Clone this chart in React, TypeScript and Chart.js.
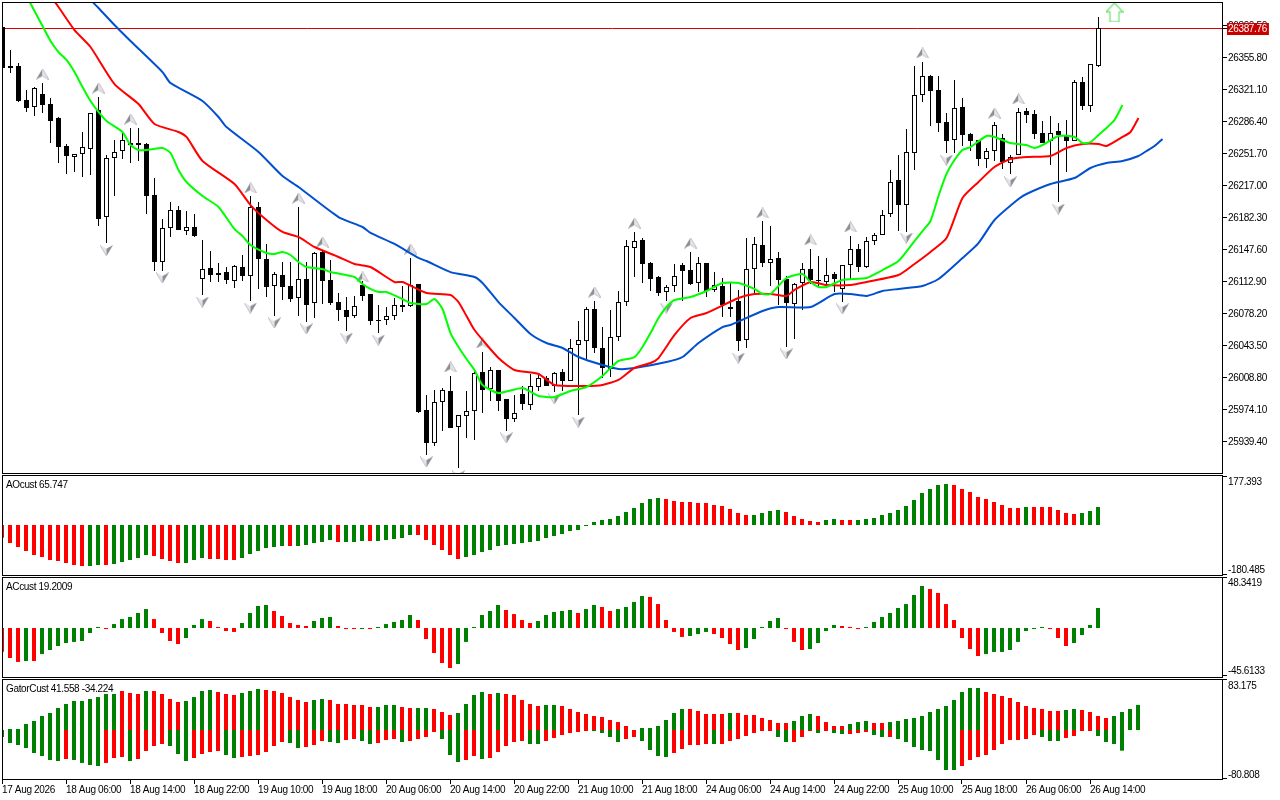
import React, { useEffect, useRef } from "react";
import { Chart, registerables } from "chart.js";

Chart.register(...registerables);

const FONT = "'Liberation Sans', Arial, sans-serif";
const bidPrice = 26387.76;

const opens = [
  26388.9,26346.6,26346.6,26309.7,26302.1,26316.3,26305.4,26290.2,26259.8,26247.9,
  26251.2,26256.6,26298.9,26182.8,26246.8,26254.4,26263.0,26263.0,26262.0,26206.7,
  26134.0,26170.9,26190.4,26167.6,26172.0,26115.6,26127.5,26122.0,26123.1,26113.4,
  26128.6,26118.8,26193.7,26137.3,26108.0,26119.9,26108.0,26095.0,26115.6,26089.6,
  26144.9,26114.5,26090.6,26082.0,26075.5,26109.1,26099.3,26071.1,26071.1,26075.5,
  26087.4,26086.3,26110.2,25973.5,25937.7,25982.2,25994.2,25955.1,25967.0,25972.4,
  26014.7,25996.3,26016.9,25985.5,25963.8,25990.9,25979.0,25998.5,26008.3,25999.6,
  26014.7,26005.0,26044.0,26048.3,26083.1,26040.8,26018.0,26052.7,26090.6,26149.2,
  26157.9,26132.9,26117.8,26101.5,26108.0,26130.8,26125.3,26111.3,26132.9,26103.7,
  26108.0,26085.2,26091.7,26049.4,26126.4,26152.5,26132.9,26138.4,26115.6,26088.5,
  26111.3,26126.4,26114.5,26112.3,26121.0,26104.8,26130.8,26148.1,26128.6,26156.8,
  26163.3,26186.1,26222.9,26195.8,26252.2,26315.1,26335.7,26320.6,26285.8,26266.3,
  26302.1,26272.8,26266.3,26245.7,26254.4,26268.5,26241.3,26250.1,26297.8,26294.5,
  26273.9,26265.2,26276.1,26271.8,26265.2,26329.2,26303.2,26346.6,
];
const closes = [
  26344.4,26344.4,26308.6,26301.0,26322.7,26304.3,26286.9,26258.7,26249.0,26251.2,
  26258.7,26295.6,26180.6,26246.8,26253.3,26266.3,26260.9,26260.9,26205.6,26134.0,
  26170.9,26190.4,26168.7,26172.0,26162.2,26126.4,26119.9,26119.9,26114.5,26129.7,
  26118.8,26193.7,26137.3,26107.0,26121.0,26107.0,26093.9,26115.6,26087.4,26143.8,
  26113.4,26089.6,26082.0,26074.4,26086.3,26097.2,26070.0,26070.0,26075.5,26087.4,
  26085.2,26109.1,25971.4,25937.7,25982.2,25995.2,25954.0,25968.1,25972.4,26013.6,
  25995.2,26016.9,25983.3,25963.8,25970.3,25980.1,25999.6,26008.3,25999.6,26013.6,
  26005.0,26040.8,26049.4,26083.1,26040.8,26019.1,26052.7,26090.6,26151.4,26156.8,
  26131.9,26115.6,26100.4,26107.0,26118.8,26124.2,26110.2,26132.9,26102.6,26109.1,
  26087.4,26083.1,26048.3,26126.4,26153.6,26132.9,26137.3,26114.5,26089.6,26110.2,
  26126.4,26114.5,26113.4,26119.9,26115.6,26130.8,26148.1,26128.6,26156.8,26163.3,
  26185.0,26220.8,26195.8,26253.3,26315.1,26335.7,26319.5,26284.8,26265.2,26301.0,
  26271.8,26265.2,26245.7,26254.4,26282.6,26242.5,26247.9,26296.7,26293.5,26272.8,
  26263.0,26273.9,26271.8,26265.2,26329.2,26303.2,26348.8,26387.76,
];
const highs = [
  26388.9,26363.9,26349.8,26320.6,26323.8,26328.1,26311.9,26291.3,26262.0,26251.2,
  26275.0,26295.6,26313.0,26250.1,26266.3,26276.1,26279.3,26279.3,26263.0,26225.1,
  26180.6,26199.1,26194.7,26189.3,26186.1,26157.9,26145.9,26132.9,26128.6,26130.8,
  26141.6,26205.6,26199.1,26153.6,26123.1,26134.0,26134.0,26193.7,26134.0,26144.9,
  26147.0,26136.2,26100.4,26096.1,26097.2,26113.4,26099.3,26087.4,26085.2,26095.0,
  26108.0,26138.4,26110.2,25989.8,25995.2,25997.4,26010.4,25968.1,25994.2,26018.0,
  26036.4,26020.2,26016.9,25985.5,25989.8,25999.6,26012.6,26012.6,26010.4,26014.7,
  26018.0,26050.5,26070.0,26085.2,26091.7,26063.5,26082.0,26102.6,26157.9,26166.6,
  26160.0,26134.0,26118.8,26109.1,26131.9,26132.9,26144.9,26139.5,26132.9,26123.1,
  26116.7,26111.3,26103.7,26160.0,26161.2,26178.5,26173.1,26144.9,26118.8,26111.3,
  26132.9,26148.1,26140.5,26138.4,26123.1,26130.8,26162.2,26153.6,26161.2,26165.5,
  26190.4,26233.8,26250.1,26278.3,26346.6,26351.0,26336.8,26335.7,26295.6,26331.4,
  26311.9,26273.9,26266.3,26257.7,26285.8,26272.8,26250.1,26301.0,26301.0,26298.9,
  26286.9,26292.4,26284.8,26288.0,26331.4,26334.7,26348.8,26399.7,
];
const lows = [
  26344.4,26338.9,26307.5,26296.7,26292.4,26295.6,26263.0,26241.3,26229.5,26231.6,
  26226.2,26228.4,26173.1,26154.6,26205.6,26245.7,26241.3,26243.6,26186.1,26124.2,
  26124.2,26161.2,26168.7,26163.3,26161.2,26098.2,26112.3,26112.3,26110.2,26105.9,
  26113.4,26091.7,26104.8,26096.1,26075.5,26092.8,26090.6,26075.5,26069.0,26073.3,
  26088.5,26087.4,26070.0,26059.2,26073.3,26091.7,26065.7,26057.0,26065.7,26071.1,
  26079.8,26085.2,25970.3,25924.7,25934.5,25950.8,25954.0,25910.7,25943.2,25941.0,
  25970.3,25983.3,25972.4,25950.8,25960.5,25973.5,25973.5,25994.2,25999.6,25993.1,
  25994.2,26005.0,25968.1,26027.8,26035.4,26008.3,26009.3,26048.3,26086.3,26117.8,
  26111.3,26102.6,26097.2,26091.7,26101.5,26091.7,26109.1,26101.5,26096.1,26101.5,
  26074.4,26074.4,26037.5,26040.8,26099.3,26128.6,26108.0,26087.4,26041.9,26050.5,
  26082.0,26110.2,26107.0,26107.0,26101.5,26090.6,26114.5,26123.1,26127.5,26152.5,
  26163.3,26182.8,26167.6,26166.6,26233.8,26307.5,26281.5,26275.0,26252.2,26252.2,
  26259.8,26254.4,26238.1,26236.0,26243.6,26234.9,26229.5,26250.1,26284.8,26267.4,
  26263.0,26239.2,26199.1,26231.6,26265.2,26298.9,26296.7,26345.5,
];

const lipsBars = [3,5,6,7,8,9,10,11,12,13,15,16,17,18,20,21,22,23,25,27,29,30,31,33,34,35,36,37,38,40,41,44,45,46,47,48,50,51,53,54,55,56,57,58,59,60,62,65,67,69,71,73,75,76,77,79,80,81,82,83,84,86,88,90,92,94,95,96,98,100,101,102,103,105,108,110,112,114,115,116,117,118,119,120,121,123,124,126,128,129,130,132,134,135,136,137,138,139,140];
const lipsPrices = [26422.5,26390.0,26373.7,26361.7,26353.1,26340.0,26323.8,26308.6,26296.7,26286.9,26275.0,26260.9,26255.5,26255.5,26257.7,26252.2,26233.8,26220.8,26205.6,26193.7,26169.8,26162.2,26152.5,26143.8,26142.7,26144.9,26141.6,26134.0,26128.6,26126.4,26123.1,26117.8,26110.2,26104.8,26101.5,26101.5,26093.9,26089.6,26088.5,26093.9,26083.1,26057.0,26041.9,26028.9,26016.9,26000.7,25992.0,25997.4,25988.7,25987.6,25994.2,25998.5,26010.4,26019.1,26026.7,26031.0,26041.9,26057.0,26073.3,26085.2,26092.8,26096.1,26102.6,26111.3,26111.3,26104.8,26099.3,26099.3,26116.7,26121.0,26112.3,26107.0,26107.0,26114.5,26116.7,26125.3,26135.1,26156.8,26167.6,26178.5,26205.6,26229.5,26244.6,26255.5,26258.7,26270.7,26269.6,26263.0,26260.9,26257.7,26260.9,26270.7,26269.6,26263.0,26264.1,26271.8,26279.3,26288.0,26304.3];

const teethBars = [6,7,9,11,14,17,19,22,23,25,29,31,33,35,37,39,42,44,46,49,50,53,56,57,58,59,62,64,67,69,73,75,77,79,81,82,84,86,88,92,94,96,98,99,101,103,106,108,112,114,116,118,120,122,124,126,128,131,133,135,137,138,140,141,142];
const teethPrices = [26422.5,26410.6,26385.6,26367.2,26327.0,26305.4,26283.7,26275.0,26269.6,26243.6,26218.6,26195.8,26179.6,26166.6,26161.2,26150.3,26139.5,26131.9,26128.6,26112.3,26112.3,26100.4,26098.2,26090.6,26075.5,26060.3,26029.9,26016.9,26012.6,26000.7,25999.6,26000.7,26006.1,26019.1,26024.5,26029.9,26054.9,26073.3,26078.7,26095.0,26099.3,26099.3,26097.2,26103.7,26112.3,26109.1,26109.1,26112.3,26119.9,26131.9,26144.9,26160.0,26203.4,26220.8,26237.0,26245.7,26247.9,26249.0,26257.7,26262.0,26262.0,26259.8,26269.6,26275.0,26290.2];

const jawBars = [11,12,14,16,20,21,25,27,28,32,35,37,42,45,46,49,52,53,56,59,60,62,64,66,68,70,72,75,77,79,83,85,87,90,91,95,97,101,104,106,108,110,112,115,117,120,122,124,127,128,131,134,136,138,140,142,143,144,145];
const jawPrices = [26418.2,26409.5,26391.0,26373.7,26340.0,26328.1,26308.6,26291.3,26280.4,26253.3,26227.3,26215.4,26182.8,26172.0,26165.5,26153.6,26138.4,26135.1,26123.1,26117.8,26111.3,26090.6,26073.3,26056.0,26046.2,26040.8,26031.0,26022.3,26018.0,26019.1,26025.6,26031.0,26046.2,26063.5,26065.7,26080.9,26085.2,26085.2,26099.3,26099.3,26097.2,26102.6,26104.8,26108.0,26115.6,26138.4,26154.6,26179.6,26202.4,26207.8,26218.6,26225.1,26236.0,26241.3,26243.6,26249.0,26254.4,26259.8,26267.4];

const fractalUpBars = [5,12,16,31,37,40,45,51,56,60,74,79,86,95,101,106,115,124,127];
const fractalUpPrices = [26337.9,26322.7,26289.1,26214.3,26203.4,26155.7,26117.8,26148.1,26020.2,26046.2,26101.5,26176.3,26154.6,26187.2,26157.9,26172.0,26360.7,26295.6,26310.8];
const fractalDownBars = [13,20,25,31,34,38,43,47,53,57,63,69,72,83,92,98,105,113,118,126,132];
const fractalDownPrices = [26146.4,26116.7,26090.6,26084.1,26067.9,26061.4,26051.6,26049.4,25917.2,25902.0,25943.2,25985.5,25960.5,26084.1,26029.9,26034.3,26083.1,26160.0,26244.6,26220.8,26191.5];
const signalBar = 139;
const signalPrice = 26404.6;

const priceTicks = [26390.5,26355.8,26321.1,26286.4,26251.7,26217.0,26182.3,26147.6,26112.9,26078.2,26043.5,26008.8,25974.1,25939.4];

const aoValues = [
  -46.5,-65.8,-80.5,-95.1,-109.7,-117.1,-128,-131.7,-139,-146.3,
  -150,-150,-146.3,-146.3,-142.7,-135.3,-128,-120.7,-109.7,-113.4,
  -124.4,-131.7,-139,-139,-128,-120.7,-124.4,-124.4,-128,-128,
  -120.7,-106.1,-95.1,-84.1,-80.5,-76.8,-76.8,-76.8,-73.2,-65.8,
  -62.2,-54.9,-62.2,-62.2,-62.2,-58.5,-58.5,-58.5,-54.9,-51.2,
  -47.6,-36.6,-36.6,-54.9,-73.2,-91.4,-109.7,-124.4,-117.1,-109.7,
  -98.8,-91.4,-76.8,-73.2,-69.5,-65.8,-62.2,-58.5,-47.6,-40.2,
  -32.9,-21.9,-18.3,-3.7,11,18.3,21.9,32.9,47.6,62.2,
  80.5,95.1,98.8,95.1,87.8,84.1,84.1,80.5,80.5,73.2,
  69.5,58.5,43.9,36.6,36.6,43.9,51.2,54.9,47.6,32.9,
  21.9,14.6,11,18.3,21.9,18.3,18.3,18.3,21.9,25.6,
  36.6,43.9,54.9,69.5,91.4,117.1,131.7,146.3,150,146.3,
  131.7,120.7,102.4,95.1,84.1,73.2,62.2,62.2,65.8,65.8,
  65.8,65.8,54.9,43.9,40.2,43.9,51.2,65.747,
];
const aoColors = ("rrrrrrrrrr"+"rggrgggggr"+"rrrgggrrrr"+"ggggggrggg"+"ggrgggrggg"+"ggrrrrrrgg"+"gggggggggg"+"gggggggggg"+"gggrrrrrrr"+"rrrrggggrr"+"rrrggrrggg"+"gggggggggr"+"rrrrrrrrgr"+"rrrrrggg").split("");

const acValues = [
  -22.8,-28.8,-32.6,-31.7,-31.7,-25,-21.1,-17.3,-14.4,-13.4,
  -12.5,-4.8,1,-1,3.8,8.6,10.6,14.4,18.2,8.6,
  -4.8,-12.5,-15.4,-9.6,2.9,8.6,6.7,1,-2.9,-3.8,
  4.8,14.4,21.1,22.1,16.3,11.5,4.8,2.9,1.9,6.7,
  9.6,10.6,1.9,-1,-1,-1,-1,1,3.8,5.8,
  7.7,12.5,7.7,-10.6,-24,-33.6,-38.4,-34.6,-13.4,1,
  12.5,16.3,22.1,17.3,13.4,7.7,4.8,6.7,12.5,15.4,
  16.3,17.3,14.4,18.2,22.1,20.2,16.3,18.2,20.2,25,
  30.7,29.8,23,7.7,-3.8,-8.6,-7.7,-5.8,-3.8,-5.8,
  -9.6,-15.4,-21.1,-19.2,-10.6,1,6.7,9.6,-1,-13.4,
  -21.1,-20.2,-14.4,-2.9,2.9,1.9,1,-1,1,5.8,
  10.6,14.4,19.2,23,31.7,40.3,37.4,33.6,23,7.7,
  -9.6,-20.2,-26.9,-25,-23,-23,-21.1,-13.4,-2.9,-1,
  1,-1,-9.6,-17.3,-14.4,-6.7,2.9,19.2009,
];
const acColors = ("rrrgrggggg"+"gggrgggggr"+"rrrgggrrrr"+"ggggrrrrrg"+"ggrrrgrggg"+"ggrrrrrggg"+"gggrrrrggg"+"ggrggrrggg"+"grrrrrgggr"+"rrrgggggrr"+"rggggrrrgg"+"ggggggrrrr"+"rrrggggggg"+"grrrgggg").split("");

const gatorUp = [
  0,1.7,1.7,9.9,14.9,23.2,28.2,36.4,43.1,48,
  48,51.3,54.6,59.6,59.6,64.6,61.3,59.6,64.6,64.6,
  59.6,51.3,46.4,48,54.6,64.6,66.2,62.9,59.6,58,
  61.3,64.6,67.9,66.2,64.6,61.3,54.6,49.7,46.4,49.7,
  51.3,49.7,43.1,43.1,41.4,41.4,38.1,38.1,41.4,41.4,
  38.1,36.4,36.4,36.4,34.8,29.8,24.8,28.2,43.1,58,
  62.9,59.6,61.3,59.6,58,49.7,43.1,39.7,41.4,41.4,
  39.7,34.8,29.8,26.5,23.2,21.5,16.6,13.2,6.6,0,
  3.3,3.3,6.6,16.6,28.2,34.8,34.8,31.5,26.5,26.5,
  26.5,28.2,28.2,24.8,24.8,19.9,16.6,11.6,11.6,14.9,
  23.2,26.5,23.2,13.2,6.6,6.6,9.9,13.2,14.9,11.6,
  11.6,13.2,14.9,18.2,19.9,23.2,29.8,34.8,39.7,49.7,
  62.9,69.6,69.6,62.9,59.6,56.3,53,46.4,39.7,36.4,
  34.8,31.5,31.5,33.1,34.8,33.1,29.8,23.2,19.9,23.2,
  29.8,34.8,41.558,
];
const gatorUpColors = ("gggggggggg"+"gggggrrrgr"+"rrrggggrrr"+"gggrrrrrrg"+"grrrrrrggg"+"rrggrrrggg"+"grgrrrrrgg"+"rrrrrrrrrr"+"ggggggrrrr"+"rgrrrrrrrg"+"ggrrrrgggr"+"rggggggggg"+"gggrrrrrrr"+"rrrggrrrrg"+"ggg").split("");
const gatorDown = [
  -11.6,-21.5,-24.8,-29.8,-38.1,-43.1,-49.7,-51.3,-48,-49.7,
  -54.6,-58,-59.6,-54.6,-46.4,-44.7,-51.3,-48,-34.8,-26.5,
  -23.2,-26.5,-39.7,-51.3,-46.4,-39.7,-36.4,-34.8,-41.4,-46.4,
  -44.7,-43.1,-41.4,-36.4,-26.5,-19.9,-21.5,-29.8,-28.2,-24.8,
  -18.2,-19.9,-21.5,-16.6,-14.9,-18.2,-23.2,-21.5,-16.6,-14.9,
  -19.9,-18.2,-14.9,-11.6,-3.3,-14.9,-41.4,-53,-49.7,-43.1,
  -48,-46.4,-36.4,-26.5,-19.9,-18.2,-23.2,-23.2,-18.2,-13.2,
  -8.3,-5,-3.3,-1.7,-1.7,-5,-11.6,-19.9,-14.9,-11.6,
  -18.2,-33.1,-43.1,-44.7,-38.1,-31.5,-24.8,-24.8,-23.2,-23.2,
  -23.2,-18.2,-14.9,-9.9,-5,-1.7,-1.7,-11.6,-19.9,-19.9,
  -11.6,-1.7,-5,-1.7,-5,-6.6,-6.6,-5,-3.3,-8.3,
  -11.6,-11.6,-14.9,-19.9,-28.2,-33.1,-34.8,-49.7,-66.2,-66.2,
  -59.6,-49.7,-44.7,-41.4,-33.1,-23.2,-16.6,-16.6,-14.9,-8.3,
  -11.6,-18.2,-18.2,-13.2,-9.9,-1.7,-1.7,-9.9,-19.9,-23.2,
  -34.224,0,0,
];
const gatorDownColors = ("ggggggggrg"+"gggrrrgrrr"+"rgggrrrrgg"+"rrrrrrggrr"+"rggrrggrrr"+"grrrrgggrr"+"grrrrrggrr"+"rrrrggggrr"+"ggggrrrrrg"+"rrrrrrrggr"+"rrgrggrrrg"+"grgggggggg"+"rrrrrrrrrr"+"gggrrrrggg"+"ggg").split("");

const timeLabels = ["17 Aug 2026","18 Aug 06:00","18 Aug 14:00","18 Aug 22:00","19 Aug 10:00","19 Aug 18:00","20 Aug 06:00","20 Aug 14:00","20 Aug 22:00","21 Aug 10:00","21 Aug 18:00","24 Aug 06:00","24 Aug 14:00","24 Aug 22:00","25 Aug 10:00","25 Aug 18:00","26 Aug 06:00","26 Aug 14:00"];
const BARS_PER_LABEL = 8;

const GREEN = "#008000";
const RED = "#ff0000";

function icon(w: number, h: number, draw: (c: CanvasRenderingContext2D) => void) {
  const cv = document.createElement("canvas");
  cv.width = w;
  cv.height = h;
  draw(cv.getContext("2d") as CanvasRenderingContext2D);
  return cv;
}
function poly(c: CanvasRenderingContext2D, pts: number[][], fill: string) {
  c.beginPath();
  pts.forEach((p, i) => (i ? c.lineTo(p[0], p[1]) : c.moveTo(p[0], p[1])));
  c.closePath();
  c.fillStyle = fill;
  c.fill();
}
const frame = (title?: string) => ({
  id: "frame",
  beforeUpdate(ch: any) {
    ch.ctx.letterSpacing = "-0.35px";
  },
  beforeDraw(ch: any) {
    ch.ctx.letterSpacing = "-0.35px";
  },
  afterDraw(ch: any) {
    const { left, top, width, height } = ch.chartArea;
    const c = ch.ctx;
    c.save();
    c.strokeStyle = "#000";
    c.lineWidth = 1;
    c.strokeRect(left + 0.5, top + 0.5, width - 1, height - 1);
    if (title) {
      c.fillStyle = "#000";
      c.font = `10px ${FONT}`;
      c.textBaseline = "middle";
      c.textAlign = "left";
      c.fillText(title, left + 4, top + 10);
    }
    c.restore();
  },
});

const baseOptions = (scales: any, top = 0) => ({
  responsive: false,
  maintainAspectRatio: false,
  animation: false,
  devicePixelRatio: 1,
  events: [],
  layout: { autoPadding: false, padding: { left: 2, right: 0, top, bottom: 0 } },
  plugins: { legend: { display: false }, tooltip: { enabled: false }, title: { display: false } },
  scales,
});

const clearPadding = (s: any) => {
  s.paddingTop = 0;
  s.paddingBottom = 0;
  s.paddingLeft = 0;
  s.paddingRight = 0;
};

const valueAxis = (ticks: number[], min: number, max: number, label: (v: number) => any, extra: any = {}) => ({
  position: "right",
  min,
  max,
  afterBuildTicks: (s: any) => {
    s.ticks = ticks.map((v) => ({ value: v }));
  },
  afterFit: (s: any) => {
    s.width = 57;
    clearPadding(s);
  },
  border: { display: false },
  grid: { drawOnChartArea: false, tickLength: 4, color: "#000", tickColor: "#000", lineWidth: 1, ...(extra.grid || {}) },
  ticks: {
    autoSkip: false,
    padding: 1,
    labelOffset: 1,
    color: "#000",
    font: { family: FONT, size: 10, lineHeight: 1 },
    callback: (v: number) => label(v),
    ...(extra.ticks || {}),
  },
});

const hiddenX = (min: number, max: number) => ({
  type: "linear",
  display: false,
  offset: false,
  min,
  max,
  grid: { offset: false },
});

const bars = (values: number[], colors: string[], order = 1) => ({
  type: "bar",
  data: values.map((v, i) => ({ x: i, y: v })),
  backgroundColor: colors.map((c) => (c === "g" ? GREEN : RED)),
  barThickness: 4,
  maxBarThickness: 4,
  inflateAmount: 0,
  grouped: false,
  order,
});

const indicatorChart = (canvas: HTMLCanvasElement, datasets: any[], title: string, y: any, x: any) =>
  new Chart(canvas, {
    type: "bar",
    data: { datasets },
    options: baseOptions({ x, y }) as any,
    plugins: [frame(title)],
  } as any);

export default function App() {
  const mainRef = useRef<HTMLCanvasElement>(null);
  const aoRef = useRef<HTMLCanvasElement>(null);
  const acRef = useRef<HTMLCanvasElement>(null);
  const gatorRef = useRef<HTMLCanvasElement>(null);

  useEffect(() => {
    const upIcon = icon(13, 11, (c) => {
      poly(c, [[6.5, 0], [6.5, 7.5], [0, 11]], "#8f8f93");
      poly(c, [[6.5, 0], [13, 11], [6.5, 7.5]], "#e4e4ec");
      c.strokeStyle = "#c6bfc6";
      c.lineWidth = 1;
      c.beginPath();
      c.moveTo(6.5, 0);
      c.lineTo(13, 11);
      c.lineTo(6.5, 7.5);
      c.stroke();
    });
    const downIcon = icon(13, 11, (c) => {
      poly(c, [[6.5, 11], [6.5, 3.5], [0, 0]], "#e4e4ec");
      poly(c, [[6.5, 11], [13, 0], [6.5, 3.5]], "#8f8f93");
      c.strokeStyle = "#c6bfc6";
      c.lineWidth = 1;
      c.beginPath();
      c.moveTo(0, 0);
      c.lineTo(6.5, 11);
      c.stroke();
    });
    const signalIcon = icon(18, 20, (c) => {
      const pts = [[9, 0.5], [17.5, 9.5], [13.5, 9.5], [13.5, 19.5], [4.5, 19.5], [4.5, 9.5], [0.5, 9.5]];
      poly(c, pts, "#ffffff");
      c.strokeStyle = "#77e077";
      c.lineWidth = 1.3;
      c.beginPath();
      pts.forEach((p, i) => (i ? c.lineTo(p[0], p[1]) : c.moveTo(p[0], p[1])));
      c.closePath();
      c.stroke();
    });

    const line = (xs: number[], ys: number[], color: string, order: number) => ({
      type: "line",
      data: xs.map((x, i) => ({ x, y: ys[i] })),
      borderColor: color,
      borderWidth: 2,
      pointRadius: 0,
      tension: 0.2,
      fill: false,
      order,
    });
    const marks = (xs: number[], ys: number[], style: any, order: number) => ({
      type: "line",
      showLine: false,
      data: xs.map((x, i) => ({ x, y: ys[i] })),
      pointStyle: style,
      pointRadius: 6,
      order,
    });

    const main = new Chart(mainRef.current as HTMLCanvasElement, {
      type: "bar",
      data: {
        datasets: [
          line(lipsBars, lipsPrices, "#00ff00", 1),
          line(teethBars, teethPrices, "#ff0000", 2),
          line(jawBars, jawPrices, "#0050d0", 3),
          marks(fractalUpBars, fractalUpPrices, upIcon, 4),
          marks(fractalDownBars, fractalDownPrices, downIcon, 4),
          marks([signalBar], [signalPrice], signalIcon, 4),
          {
            type: "bar",
            data: opens.map((o, i) => ({ x: i, y: [o, closes[i]] })),
            backgroundColor: opens.map((o, i) => (closes[i] >= o ? "#ffffff" : "#000000")),
            borderColor: "#000000",
            borderWidth: 1,
            borderSkipped: false,
            barThickness: 5,
            maxBarThickness: 5,
            inflateAmount: 0,
            grouped: false,
            order: 5,
          },
          {
            type: "bar",
            data: highs.map((h, i) => ({ x: i, y: [lows[i], h] })),
            backgroundColor: "#000000",
            barThickness: 1,
            maxBarThickness: 1,
            inflateAmount: 0,
            grouped: false,
            order: 6,
          },
        ],
      },
      options: baseOptions(
        {
          x: hiddenX(-0.0625, 152.5625),
          y: valueAxis([...priceTicks, bidPrice], 25904.14, 26415.98, (v) => v.toFixed(2), {
            grid: {
              drawOnChartArea: true,
              color: (c: any) => (c.tick && c.tick.value === bidPrice ? "#d80000" : "rgba(0,0,0,0)"),
            },
            ticks: {
              color: (c: any) => (c.tick && c.tick.value === bidPrice ? "#ffffff" : "#000000"),
              showLabelBackdrop: (c: any) => !!c.tick && c.tick.value === bidPrice,
              backdropColor: "#c80000",
              backdropPadding: { left: 1, right: 2, top: 1, bottom: 1 },
            },
          }),
        },
        2
      ) as any,
      plugins: [frame()],
    } as any);

    const subX = () => hiddenX(0, 152.625);

    const ao = indicatorChart(
      aoRef.current as HTMLCanvasElement,
      [bars(aoValues, aoColors)],
      "AOcust 65.747",
      valueAxis([177.393, -180.485], -186.54, 182.88, (v) => (v > 0 ? ["", v.toFixed(3)] : [v.toFixed(3), ""])),
      subX()
    );
    const ac = indicatorChart(
      acRef.current as HTMLCanvasElement,
      [bars(acValues, acColors)],
      "ACcust 19.2009",
      valueAxis([48.3419, -45.6133], -48, 48.96, (v) => (v > 0 ? ["", v.toFixed(4)] : [v.toFixed(4), ""])),
      subX()
    );
    const gator = indicatorChart(
      gatorRef.current as HTMLCanvasElement,
      [bars(gatorUp, gatorUpColors, 1), bars(gatorDown, gatorDownColors, 2)],
      "GatorCust 41.558 -34.224",
      valueAxis([83.175, -80.808], -82.8, 84.456, (v) => (v > 0 ? ["", v.toFixed(3)] : [v.toFixed(3), ""])),
      {
        type: "linear",
        position: "bottom",
        offset: false,
        min: 0,
        max: 152.625,
        afterBuildTicks: (s: any) => {
          s.ticks = timeLabels.map((_, k) => ({ value: k * BARS_PER_LABEL }));
        },
        afterFit: (s: any) => {
          s.height = 20;
          clearPadding(s);
        },
        border: { display: false },
        grid: { offset: false, drawOnChartArea: false, tickLength: 4, color: "#000", tickColor: "#000" },
        ticks: {
          align: "start",
          autoSkip: false,
          maxRotation: 0,
          minRotation: 0,
          padding: 1,
          color: "#000",
          font: { family: FONT, size: 10, lineHeight: 1 },
          callback: (v: number) => timeLabels[v / BARS_PER_LABEL],
        },
      }
    );

    return () => {
      main.destroy();
      ao.destroy();
      ac.destroy();
      gator.destroy();
    };
  }, []);

  const abs = (top: number): React.CSSProperties => ({ position: "absolute", left: 0, top, display: "block" });

  return (
    <div style={{ position: "absolute", left: 0, top: 0, width: 1280, height: 800, background: "#fff", overflow: "hidden" }}>
      <canvas ref={mainRef} width={1280} height={474} style={abs(0)} />
      <canvas ref={aoRef} width={1280} height={101} style={abs(475)} />
      <canvas ref={acRef} width={1280} height={101} style={abs(577)} />
      <canvas ref={gatorRef} width={1280} height={121} style={abs(679)} />
    </div>
  );
}
